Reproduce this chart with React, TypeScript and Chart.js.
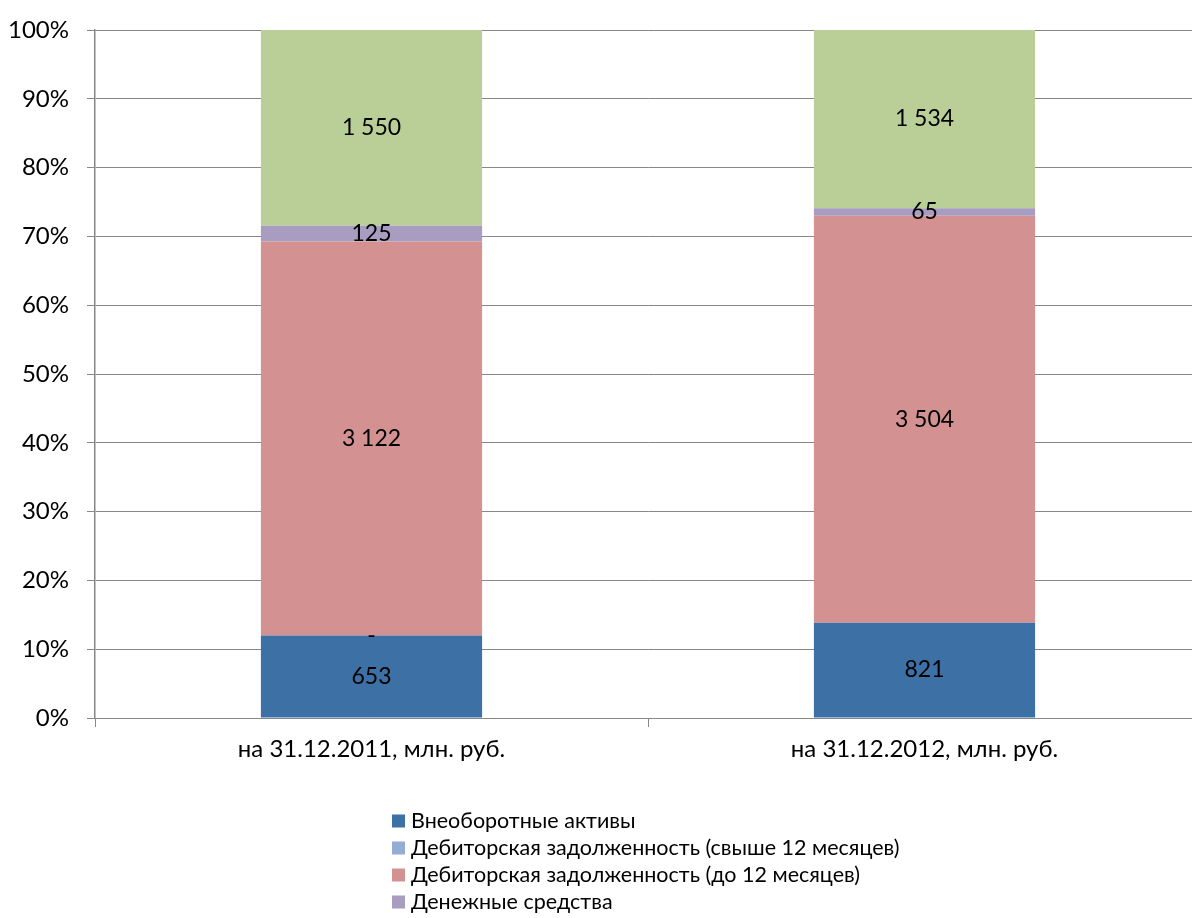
import React, { useEffect, useRef } from "react";
import { Chart, registerables } from "chart.js";

Chart.register(...registerables);

const categories = ["на 31.12.2011, млн. руб.", "на 31.12.2012, млн. руб."];
const nonCurrentAssets = [653, 821];
const receivablesLong = [0, null];
const receivablesShort = [3122, 3504];
const cash = [125, 65];
const otherAssets = [1550, 1534];

const seriesNames = [
  "Внеоборотные активы",
  "Дебиторская задолженность (свыше 12 месяцев)",
  "Дебиторская задолженность (до 12 месяцев)",
  "Денежные средства",
  "Прочие оборотные активы",
];
const seriesValues: (number | null)[][] = [
  nonCurrentAssets,
  receivablesLong,
  receivablesShort,
  cash,
  otherAssets,
];
const seriesColors = ["#3D71A6", "#93ADD4", "#D39191", "#A99CC1", "#BACE98"];

const FONT = "Lato";

const fmt = (v: number) => String(v).replace(/\B(?=(\d{3})+(?!\d))/g, " ");

const totals = categories.map((_, i) =>
  seriesValues.reduce((s, arr) => s + (arr[i] ?? 0), 0)
);

const segLabels = {
  id: "segLabels",
  afterDatasetsDraw(chart: any) {
    const ctx = chart.ctx;
    ctx.save();
    ctx.font = `23px ${FONT}`;
    ctx.fillStyle = "#000";
    ctx.textAlign = "center";
    ctx.textBaseline = "middle";
    chart.data.datasets.forEach((ds: any, di: number) => {
      const meta = chart.getDatasetMeta(di);
      meta.data.forEach((bar: any, i: number) => {
        const raw = seriesValues[di][i];
        if (raw === null || raw === undefined) return;
        const { x, y, base } = bar.getProps(["x", "y", "base"], true);
        const cy = (y + base) / 2;
        ctx.fillText(raw === 0 ? "-" : fmt(raw), x, cy);
      });
    });
    ctx.restore();
  },
};

const customLegend = {
  id: "customLegend",
  afterDraw(chart: any) {
    const ctx = chart.ctx;
    const left = 392;
    const top = 821;
    const row = 27;
    const box = 13;
    ctx.save();
    ctx.font = `21.5px ${FONT}`;
    ctx.textAlign = "left";
    ctx.textBaseline = "middle";
    chart.data.datasets.forEach((ds: any, i: number) => {
      const cy = top + i * row;
      ctx.fillStyle = ds.backgroundColor;
      ctx.fillRect(left, cy - box / 2, box, box);
      ctx.fillStyle = "#000";
      ctx.fillText(ds.label, left + box + 6, cy);
    });
    ctx.restore();
  },
};

export default function App() {
  const ref = useRef<HTMLCanvasElement | null>(null);

  useEffect(() => {
    if (!ref.current) return;
    const chart = new Chart(ref.current, {
      type: "bar",
      data: {
        labels: categories,
        datasets: seriesNames.map((name, di) => ({
          label: name,
          data: seriesValues[di].map((v, i) =>
            v === null ? null : (v / totals[i]) * 100
          ),
          backgroundColor: seriesColors[di],
          borderWidth: 0,
          categoryPercentage: 1,
          barPercentage: 0.4,
        })),
      },
      options: {
        animation: false,
        responsive: true,
        maintainAspectRatio: false,
        layout: { padding: { top: 30, right: 9, left: 0, bottom: 0 } },
        plugins: {
          legend: { display: false },
          tooltip: { enabled: false },
        },
        scales: {
          x: {
            stacked: true,
            grid: {
              display: true,
              drawOnChartArea: false,
              drawTicks: true,
              tickLength: 9,
              color: "#878787",
              offset: true,
            },
            border: { display: true, color: "#878787", width: 1 },
            ticks: {
              color: "#000",
              font: { family: FONT, size: 24 },
              padding: 8,
            },
            afterFit: (s: any) => {
              s.height = 200;
            },
          },
          y: {
            stacked: true,
            min: 0,
            max: 100,
            grid: { color: "#878787", tickLength: 8 },
            border: { display: true, color: "#878787", width: 1.5 },
            ticks: {
              stepSize: 10,
              color: "#000",
              font: { family: FONT, size: 24 },
              padding: 18,
              callback: (v: any) => `${v}%`,
            },
            afterFit: (s: any) => {
              s.width = 95;
              s.paddingTop = 0;
              s.paddingBottom = 0;
            },
          },
        },
      },
      plugins: [segLabels, customLegend],
    });
    return () => chart.destroy();
  }, []);

  return (
    <div
      style={{
        position: "fixed",
        left: 0,
        top: 0,
        width: 1192,
        height: 918,
        overflow: "hidden",
        background: "#fff",
      }}
    >
      <div style={{ position: "relative", width: 1210, height: 918 }}>
        <canvas ref={ref} />
      </div>
    </div>
  );
}
